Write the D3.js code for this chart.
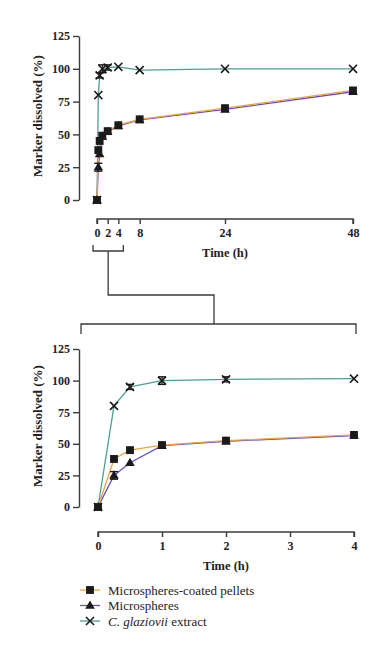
<!DOCTYPE html>
<html><head><meta charset="utf-8">
<script src="https://cdn.jsdelivr.net/npm/d3@7"></script>
<style>body{margin:0;background:#fff}svg{display:block}</style>
</head><body>
<script>
const times = [0, 0.25, 0.5, 1, 2, 4, 8, 24, 48];
const pellets = [0, 38, 45, 49, 52.5, 57, 61.5, 70, 83.5];
const microspheres = [0, 25, 35, 48.5, 52, 56.5, 61, 69, 82.5];
const extract = [0, 80, 95, 100, 101, 101.5, 99, 100, 100];
const pelletsErr = [0, 0, 0, 0, 0, 0, 0, 0, 0];
const microErr = [0, 3, 0, 0, 0, 0, 0, 0, 0];
const extractErr = [0, 0, 2, 3, 2, 0, 0, 0, 0];
const yTicks = [0, 25, 50, 75, 100, 125];
const topXTicks = [0, 2, 4, 8, 24, 48];
const bottomXTicks = [0, 1, 2, 3, 4];
const seriesNames = ["Microspheres-coated pellets", "Microspheres", "C. glaziovii extract"];

const W = 390, H = 660;
const axisColor = "#3b3b3b";
const colors = {pellets: "#f5a23c", micro: "#5d52c4", extract: "#4e9f92"};
const serif = "'Liberation Serif', 'Times New Roman', serif";

const svg = d3.select("body").append("svg").attr("width", W).attr("height", H);

const series = [
  {key: "extract", vals: extract, err: extractErr, color: colors.extract, shape: "cross"},
  {key: "micro", vals: microspheres, err: microErr, color: colors.micro, shape: "triangle"},
  {key: "pellets", vals: pellets, err: pelletsErr, color: colors.pellets, shape: "square"}
];

function drawMarker(g, shape, x, y) {
  if (shape === "square") {
    g.append("path").attr("d", d3.symbol(d3.symbolSquare, 62)()).attr("transform", `translate(${x},${y})`).attr("fill", "#1a1a1a");
  } else if (shape === "triangle") {
    g.append("path").attr("d", d3.symbol(d3.symbolTriangle, 40)()).attr("transform", `translate(${x},${y+0.5})`).attr("fill", "#1a1a1a");
  } else {
    g.append("path").attr("d", d3.symbol(d3.symbolTimes, 44)()).attr("transform", `translate(${x},${y})`)
      .attr("fill", "none").attr("stroke", "#1a1a1a").attr("stroke-width", 1.6);
  }
}

function drawPanel(opts) {
  const {x, y, tmax, xTicks} = opts;
  const g = svg.append("g");
  const idx = times.map((t, i) => i).filter(i => times[i] <= tmax);

  // y axis
  const yAxis = d3.axisLeft(y).tickValues(yTicks).tickFormat(d3.format("d")).tickSize(6).tickPadding(3).tickSizeOuter(0);
  const ya = g.append("g").attr("transform", `translate(${opts.yAxisX},0)`).call(yAxis);
  ya.select(".domain").attr("stroke", axisColor).attr("stroke-width", 1.4);
  ya.selectAll(".tick line").attr("stroke", axisColor).attr("stroke-width", 1.4);
  ya.selectAll(".tick text").attr("font-family", serif).attr("font-weight", "bold").attr("font-size", 12).attr("fill", "#222");

  // x axis
  const xAxis = d3.axisBottom(x).tickValues(xTicks).tickFormat(d3.format("d")).tickSize(5).tickPadding(4).tickSizeOuter(0);
  const xa = g.append("g").attr("transform", `translate(0,${opts.xAxisY})`).call(xAxis);
  xa.select(".domain").attr("stroke", axisColor).attr("stroke-width", 1.4)
    .attr("d", `M${x(0)},5V0H${x(tmax)}V5`);
  xa.selectAll(".tick line").attr("stroke", axisColor).attr("stroke-width", 1.4);
  xa.selectAll(".tick text").attr("font-family", serif).attr("font-weight", "bold").attr("font-size", 12).attr("fill", "#222");

  // titles
  g.append("text").attr("x", (x(0) + x(tmax)) / 2).attr("y", opts.xTitleY)
    .attr("text-anchor", "middle").attr("font-family", serif).attr("font-weight", "bold")
    .attr("font-size", 12.5).attr("fill", "#222").text("Time (h)");
  g.append("text").attr("transform", `translate(${opts.yTitleX},${(y(0) + y(125)) / 2 - 2}) rotate(-90)`)
    .attr("text-anchor", "middle").attr("dominant-baseline", "central").attr("font-family", serif).attr("font-weight", "bold")
    .attr("font-size", 13).attr("fill", "#222").text("Marker dissolved (%)");

  // lines
  series.forEach(s => {
    const line = d3.line().x(i => x(times[i])).y(i => y(s.vals[i]));
    g.append("path").datum(idx).attr("d", line).attr("fill", "none")
      .attr("stroke", s.color).attr("stroke-width", 1.3);
  });
  // error bars
  series.forEach(s => {
    idx.forEach(i => {
      if (s.err[i] > 0) {
        const cx = x(times[i]);
        const y1 = y(s.vals[i] + s.err[i]), y2 = y(s.vals[i] - s.err[i]);
        g.append("line").attr("x1", cx).attr("x2", cx).attr("y1", y1).attr("y2", y2).attr("stroke", "#1a1a1a").attr("stroke-width", 1.2);
        [y1, y2].forEach(yy => g.append("line").attr("x1", cx - 4).attr("x2", cx + 4).attr("y1", yy).attr("y2", yy).attr("stroke", "#1a1a1a").attr("stroke-width", 1.4));
      }
    });
  });
  // markers
  series.forEach(s => {
    idx.forEach(i => drawMarker(g, s.shape, x(times[i]), y(s.vals[i])));
  });
}

// top panel
const xTop = d3.scaleLinear().domain([0, 48]).range([97, 353]);
const yTop = d3.scaleLinear().domain([0, 125]).range([200, 36]);
drawPanel({x: xTop, y: yTop, tmax: 48, xTicks: topXTicks, yAxisX: 79, xAxisY: 219, xTitleY: 257, yTitleX: 37});

// bottom panel
const xBot = d3.scaleLinear().domain([0, 4]).range([98, 354]);
const yBot = d3.scaleLinear().domain([0, 125]).range([507, 349]);
drawPanel({x: xBot, y: yBot, tmax: 4, xTicks: bottomXTicks, yAxisX: 79, xAxisY: 532, xTitleY: 570, yTitleX: 37});

// zoom bracket connector
const bx1 = xTop(0) - 4, bx2 = xTop(4) + 5, by0 = 245, by1 = 251;
const bmid = (bx1 + bx2) / 2;
const conn = d3.path();
conn.moveTo(bx1, by0); conn.lineTo(bx1, by1); conn.lineTo(bx2, by1); conn.lineTo(bx2, by0);
conn.moveTo(bmid, by1); conn.lineTo(bmid, 295); conn.lineTo(214, 295); conn.lineTo(214, 324);
conn.moveTo(81, 334); conn.lineTo(81, 324); conn.lineTo(356, 324); conn.lineTo(356, 334);
svg.append("path").attr("d", conn.toString()).attr("fill", "none").attr("stroke", axisColor).attr("stroke-width", 1.3);

// legend
const legendOrder = [
  {name: seriesNames[0], color: colors.pellets, shape: "square"},
  {name: seriesNames[1], color: colors.micro, shape: "triangle"},
  {name: seriesNames[2], color: colors.extract, shape: "cross"}
];
const lg = svg.append("g");
const rowY = [590, 605.5, 621];
legendOrder.forEach((d, i) => {
  const yy = rowY[i];
  lg.append("line").attr("x1", 80).attr("x2", 100).attr("y1", yy).attr("y2", yy).attr("stroke", d.color).attr("stroke-width", 1.3);
  drawMarker(lg, d.shape, 90, yy);
  const t = lg.append("text").attr("x", 108).attr("y", yy).attr("dominant-baseline", "central")
    .attr("font-family", serif).attr("font-size", 13).attr("fill", "#222");
  if (d.shape === "cross") {
    t.append("tspan").attr("font-style", "italic").text("C. glaziovii");
    t.append("tspan").text(" extract");
  } else {
    t.text(d.name);
  }
});
</script>
</body></html>
